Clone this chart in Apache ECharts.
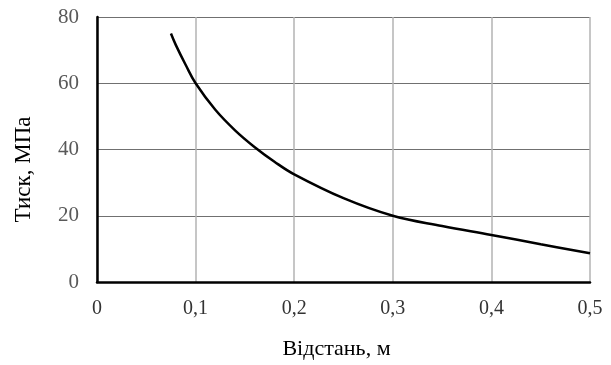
<!DOCTYPE html>
<html>
<head>
    <meta charset="utf-8">
    <title>Тиск від відстані</title>
    <script src="https://cdn.jsdelivr.net/npm/echarts@6/dist/echarts.min.js"></script>
</head>
<body style="margin:0;background:#fff">
    <div id="main" style="width:611px;height:365px;"></div>
    <script type="text/javascript">
        // відстань, м
        var distance = [0.075, 0.08, 0.09, 0.1, 0.12, 0.14, 0.16, 0.18, 0.2, 0.25, 0.3, 0.35, 0.4, 0.45, 0.5];
        // тиск, МПа
        var pressure = [75, 71.5, 65.5, 60, 52, 45.8, 40.7, 36.3, 32.5, 25.3, 20, 16.9, 14.2, 11.4, 8.7];

        var data = distance.map(function (d, i) { return [d, pressure[i]]; });

        var myChart = echarts.init(document.getElementById('main'));
        var font = '"Liberation Serif", "Times New Roman", serif';

        var option = {
            animation: false,
            grid: { left: 97, right: 21, top: 17, bottom: 80 },
            xAxis: {
                type: 'value',
                min: 0, max: 0.5, interval: 0.1,
                name: 'Відстань, м',
                nameLocation: 'middle',
                nameGap: 56,
                nameTextStyle: { fontFamily: font, fontSize: 22, color: '#000', padding: [0, 14, 0, 0] },
                axisLine: { onZero: false, lineStyle: { color: '#000', width: 2.5 } },
                axisTick: { show: false },
                axisLabel: {
                    fontFamily: font, fontSize: 20, color: '#333', margin: 17,
                    formatter: function (v) { return String(+v.toFixed(1)).replace('.', ','); }
                },
                splitLine: { show: true, lineStyle: { color: '#b3b3b3', width: 1.5 } }
            },
            yAxis: {
                type: 'value',
                min: 0, max: 80, interval: 20,
                name: 'Тиск, МПа',
                nameLocation: 'middle',
                nameGap: 62,
                nameTextStyle: { fontFamily: font, fontSize: 23, color: '#000', padding: [0, 40, 0, 0] },
                axisLine: { show: true, onZero: false, lineStyle: { color: '#000', width: 2.5 } },
                axisTick: { show: false },
                axisLabel: { fontFamily: font, fontSize: 21, color: '#595959', margin: 18 },
                splitLine: { show: true, lineStyle: { color: '#707070', width: 1 } }
            },
            series: [{
                type: 'line',
                data: data,
                smooth: 0.4,
                showSymbol: false,
                lineStyle: { color: '#000', width: 2.5 }
            }]
        };

        myChart.setOption(option);
    </script>
</body>
</html>
